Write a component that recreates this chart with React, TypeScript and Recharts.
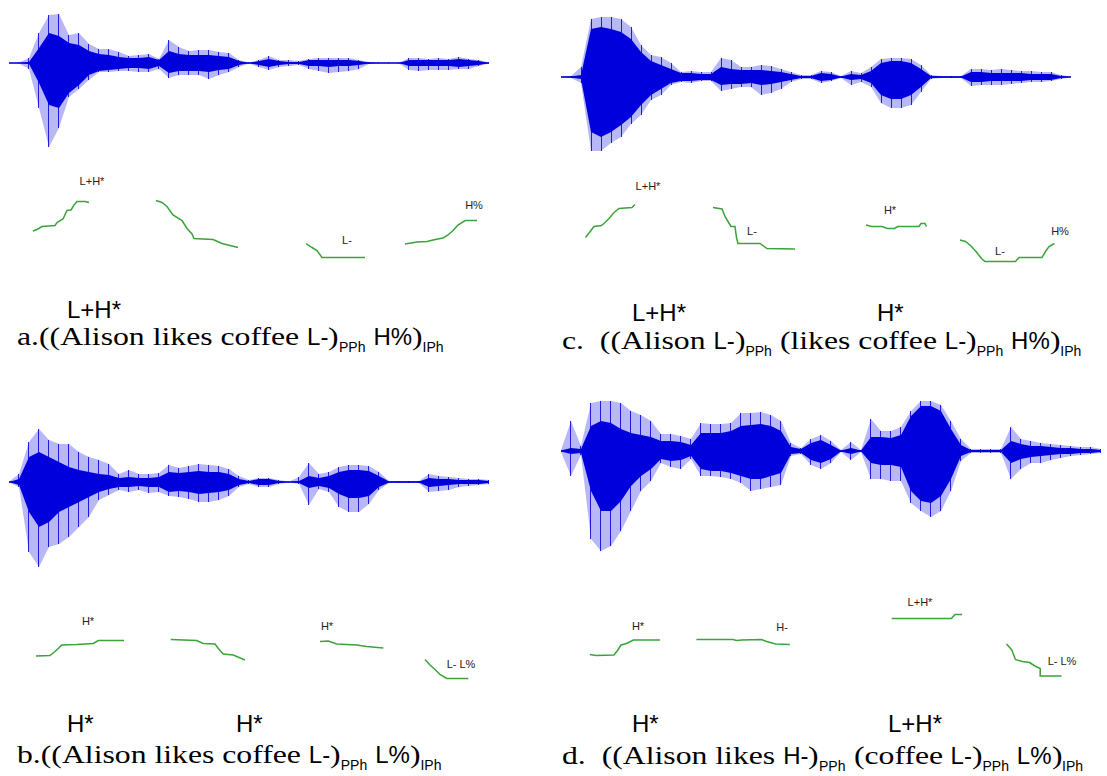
import React from "react";
import { ComposedChart, Area, Bar, XAxis, YAxis, ReferenceLine, LineChart, Line } from "recharts";

const BLUE = "#0000dd";
const GREEN = "#3aa33a";
const SERIF = "'Liberation Serif', 'Times New Roman', serif";
const SANS = "'Liberation Sans', Arial, sans-serif";
const STRETCH = 1.22; // the serif captions in the scan are set wide

// waveform envelopes, one sample every ~10px of the recording (amplitude above / below zero)
const waveAUp = [0.5, 0.5, 5, 30, 48, 49, 28, 30, 19, 14, 14, 11, 7, 8, 9, 4, 23, 16, 12, 13, 13, 11, 10, 3, 0.5, 3, 7, 3, 3, 2, 4, 5, 5, 5, 5, 3, 1, 0.5, 0.5, 0.5, 5, 5, 4, 5, 4, 6, 4, 3, 0.5];
const waveADown = [0.5, 0.5, 6, 45, 84, 65, 34, 26, 17, 9, 9, 8, 8, 9, 9, 6, 15, 12, 12, 12, 16, 12, 9, 4, 0.5, 4, 7, 4, 3, 2, 6, 8, 10, 9, 8, 6, 1, 0.5, 0.5, 0.5, 7, 8, 7, 7, 7, 6, 6, 3, 0.5];
const waveACoreUp = [0, 0, 1, 15, 30, 27, 20, 18, 12, 9, 8, 6, 5, 5, 6, 3, 12, 9, 8, 8, 8, 7, 6, 2, 0, 2, 4, 2, 1, 1, 3, 3, 3, 3, 3, 2, 0.5, 0, 0, 0, 3, 3, 3, 3, 3, 4, 3, 2, 0];
const waveACoreDown = [0, 0, 1, 20, 42, 45, 30, 22, 12, 8, 7, 6, 5, 5, 6, 3, 10, 8, 8, 8, 9, 7, 6, 2, 0, 2, 4, 2, 1, 1, 3, 3, 4, 3, 3, 2, 0.5, 0, 0, 0, 3, 3, 3, 3, 3, 4, 3, 2, 0];

const waveCUp = [0.5, 1, 10, 58, 60, 60, 58, 50, 32, 22, 20, 14, 5, 6, 5, 5, 19, 17, 10, 10, 12, 11, 8, 5, 2, 2, 6, 5, 1, 6, 4, 10, 18, 19, 19, 18, 12, 2, 1, 1, 1, 8, 8, 7, 8, 7, 6, 6, 5, 5, 2, 0.5];
const waveCDown = [0.5, 1, 6, 74, 74, 66, 60, 47, 38, 23, 18, 8, 5, 6, 4, 4, 14, 12, 10, 10, 18, 16, 12, 5, 2, 2, 6, 4, 1, 8, 5, 10, 26, 31, 31, 28, 15, 2, 1, 1, 1, 9, 8, 8, 8, 7, 6, 5, 5, 4, 2, 0.5];
const waveCCoreUp = [0, 0.5, 2, 48, 50, 48, 45, 38, 25, 16, 12, 8, 4, 4, 3, 3, 10, 8, 7, 7, 7, 6, 5, 3, 1, 1, 4, 3, 0.5, 3, 2, 6, 14, 16, 16, 14, 8, 1, 0.5, 0.5, 0.5, 5, 5, 4, 4, 4, 4, 3, 3, 3, 1, 0];
const waveCCoreDown = [0, 0.5, 2, 55, 60, 55, 48, 40, 28, 18, 12, 6, 4, 4, 3, 3, 8, 7, 7, 6, 8, 7, 5, 3, 1, 1, 4, 3, 0.5, 3, 2, 6, 18, 22, 22, 18, 10, 1, 0.5, 0.5, 0.5, 5, 5, 4, 4, 4, 4, 3, 3, 3, 1, 0];

const waveBUp = [0.5, 8, 40, 53, 42, 38, 38, 30, 25, 22, 18, 8, 12, 8, 8, 9, 17, 14, 16, 18, 17, 16, 13, 6, 2, 4, 4, 2, 0.5, 5, 19, 8, 10, 15, 17, 17, 16, 10, 1, 1, 1, 1, 8, 6, 5, 4, 3, 3, 2];
const waveBDown = [0.5, 5, 70, 85, 65, 62, 55, 45, 35, 18, 13, 8, 10, 8, 11, 10, 14, 15, 17, 20, 20, 18, 14, 5, 2, 5, 5, 2, 0.5, 2, 23, 7, 10, 25, 30, 30, 22, 8, 1, 1, 1, 1, 10, 9, 8, 5, 4, 3, 2];
const waveBCoreUp = [0, 3, 25, 30, 25, 20, 15, 12, 10, 8, 7, 4, 5, 4, 4, 5, 10, 9, 10, 11, 10, 10, 8, 3, 1, 3, 3, 1, 0, 1, 6, 4, 6, 10, 12, 12, 11, 6, 0.5, 0.5, 0.5, 0.5, 4, 3, 3, 2, 2, 2, 1];
const waveBCoreDown = [0, 3, 30, 45, 40, 30, 25, 20, 15, 10, 7, 5, 5, 4, 5, 5, 10, 9, 10, 12, 11, 10, 8, 3, 1, 3, 3, 1, 0, 1, 6, 4, 6, 12, 16, 16, 14, 5, 0.5, 0.5, 0.5, 0.5, 5, 4, 3, 2, 2, 2, 1];

const waveDUp = [1, 30, 5, 48, 50, 50, 48, 40, 36, 30, 17, 17, 15, 12, 28, 27, 27, 28, 38, 38, 39, 36, 30, 8, 3, 12, 16, 10, 1, 9, 1, 32, 20, 20, 24, 40, 50, 50, 46, 30, 12, 2, 2, 2, 2, 24, 12, 10, 8, 7, 6, 5, 4, 4, 2];
const waveDDown = [1, 25, 4, 88, 100, 95, 80, 60, 40, 30, 12, 16, 18, 8, 25, 25, 26, 28, 32, 40, 38, 36, 34, 5, 3, 14, 18, 12, 1, 9, 1, 28, 28, 30, 30, 52, 60, 66, 60, 40, 10, 2, 2, 2, 2, 28, 18, 12, 12, 9, 7, 5, 4, 3, 2];
const waveDCoreUp = [0.5, 3, 2, 25, 30, 28, 22, 18, 16, 14, 10, 10, 9, 6, 18, 18, 18, 20, 25, 26, 27, 25, 20, 4, 2, 8, 11, 6, 0.5, 3, 0.5, 14, 14, 13, 16, 35, 45, 45, 40, 22, 6, 1, 1, 1, 1, 10, 7, 5, 5, 4, 3, 3, 2, 2, 1];
const waveDCoreDown = [0.5, 3, 2, 40, 60, 60, 50, 35, 25, 18, 8, 10, 9, 5, 18, 20, 20, 22, 25, 28, 28, 25, 22, 3, 2, 9, 12, 8, 0.5, 3, 0.5, 12, 14, 14, 16, 40, 50, 52, 45, 28, 5, 1, 1, 1, 1, 12, 8, 6, 5, 4, 3, 3, 2, 2, 1];

// F0 tracks: [time, Hz], one array per voiced stretch
const pitchA1 = [[2.4, 218], [2.8, 221], [3.3, 227], [4.6, 229], [4.8, 235], [5.4, 242], [5.8, 259], [6.2, 260], [6.5, 270], [6.8, 277], [7.6, 277], [8.0, 275]];
const pitchA2 = [[14.7, 279], [15.3, 275], [15.8, 267], [16.4, 250], [17.3, 239], [17.8, 223], [18.3, 212], [18.5, 203], [20.4, 201], [21.3, 193], [22.1, 189], [22.9, 185]];
const pitchA3 = [[29.7, 193], [30.3, 185], [30.8, 179], [31.3, 165], [35.6, 165]];
const pitchA4 = [[39.6, 192], [40.8, 196], [41.8, 197], [42.4, 200], [43.4, 204], [43.9, 210], [44.4, 219], [44.9, 230], [45.6, 239], [46.8, 239]];

const pitchC1 = [[2.45, 205], [3.0, 219], [3.3, 227], [4.05, 229], [4.4, 235], [4.8, 243], [5.3, 255], [5.8, 263], [7.1, 265], [7.4, 271]];
const pitchC2 = [[15.2, 265], [16.1, 262], [16.4, 247], [16.7, 237], [17.0, 227], [17.4, 227], [17.55, 205], [17.7, 193], [19.9, 193], [20.6, 183], [23.4, 182]];
const pitchC3 = [[30.5, 230], [31.05, 227], [32.1, 227], [32.65, 223], [33.35, 223], [33.7, 227], [35.8, 227], [36.0, 233], [36.4, 233], [36.55, 227]];
const pitchC4 = [[39.9, 200], [40.45, 197], [41.0, 188], [41.5, 177], [42.05, 163], [42.4, 157], [45.45, 157], [45.8, 165], [48.1, 165], [48.45, 177], [48.8, 187], [49.35, 193]];

const pitchB1 = [[2.7, 228], [4.1, 229], [4.6, 237], [4.93, 243], [5.27, 250], [6.77, 251], [8.43, 253], [8.93, 259], [11.5, 259]];
const pitchB2 = [[16.17, 261], [18.77, 259], [19.43, 253], [20.6, 252], [20.93, 243], [21.43, 232], [22.43, 230], [23.6, 220]];
const pitchB3 = [[31.1, 257], [31.93, 258], [32.77, 252], [34.77, 250], [35.77, 247], [37.43, 244]];
const pitchB4 = [[41.6, 221], [42.1, 210], [42.6, 201], [43.1, 191], [43.77, 183], [45.93, 183]];

const pitchD1 = [[2.88, 191], [3.52, 189], [5.3, 190], [5.65, 199], [6.0, 210], [6.54, 213], [7.25, 220], [9.91, 220]];
const pitchD2 = [[13.54, 221], [17.2, 221], [17.55, 219], [18.08, 220], [20.04, 221], [20.57, 217], [21.46, 212], [22.88, 211]];
const pitchD3 = [[33.07, 263], [39.04, 263], [39.4, 271], [40.11, 271]];
const pitchD4 = [[44.55, 212], [45.08, 200], [45.44, 181], [46.15, 177], [46.86, 175], [47.39, 168], [47.92, 163], [47.92, 148], [50.05, 148]];

const noMargin = { top: 0, right: 0, bottom: 0, left: 0 };

function Waveform({ up, down, coreUp, coreDown, left, top, width, height, min, max }: any) {
  const rows = up.map((u: number, i: number) => ({
    t: i,
    peak: [-down[i], u],
    core: [-coreDown[i], coreUp[i]],
  }));
  return (
    <div style={{ position: "absolute", left, top }}>
      <ComposedChart width={width} height={height} data={rows} margin={noMargin}>
        <XAxis dataKey="t" type="number" domain={[0, up.length - 1]} hide />
        <YAxis type="number" domain={[min, max]} hide allowDataOverflow />
        <Area dataKey="peak" type="linear" fill={BLUE} fillOpacity={0.28} stroke="none" isAnimationActive={false} />
        <Area dataKey="core" type="linear" fill={BLUE} fillOpacity={1} stroke="none" isAnimationActive={false} />
        <Bar dataKey="peak" barSize={1} fill={BLUE} fillOpacity={0.85} isAnimationActive={false} />
        <ReferenceLine y={0} stroke={BLUE} strokeWidth={1.5} />
      </ComposedChart>
    </div>
  );
}

function PitchTrack({ segments, left, top, width, span }: any) {
  return (
    <div style={{ position: "absolute", left, top }}>
      <LineChart width={width} height={100} margin={noMargin}>
        <XAxis dataKey="t" type="number" domain={[0, span]} hide />
        <YAxis type="number" domain={[100, 300]} hide />
        {segments.map((seg: number[][], k: number) => (
          <Line
            key={k}
            data={seg.map(([t, hz]) => ({ t, hz }))}
            dataKey="hz"
            type="linear"
            stroke={GREEN}
            strokeWidth={1.5}
            dot={false}
            isAnimationActive={false}
          />
        ))}
      </LineChart>
    </div>
  );
}

function Tag({ x, y, children }: any) {
  return (
    <div
      style={{
        position: "absolute",
        left: x,
        top: y,
        transform: "translate(-50%, -50%)",
        fontFamily: SANS,
        fontSize: 11,
        lineHeight: "11px",
        color: "#222",
        whiteSpace: "pre",
      }}
    >
      {children}
    </div>
  );
}

function Accent({ x, baseline, children }: any) {
  return (
    <div style={{ position: "absolute", left: x, top: baseline - 20, fontFamily: SANS, fontSize: 24, lineHeight: "24px", color: "#000" }}>
      {children}
    </div>
  );
}

const ctx = typeof document !== "undefined" ? document.createElement("canvas").getContext("2d") : null;

// serif run, widened like the scan
const T = ({ children }: any) => {
  const text = String(children);
  let w = text.length * 12;
  if (ctx) {
    ctx.font = "26px 'Liberation Serif'";
    w = ctx.measureText(text).width;
  }
  return (
    <span style={{ display: "inline-block", width: w * STRETCH, whiteSpace: "pre" }}>
      <span style={{ display: "inline-block", transform: `scaleX(${STRETCH})`, transformOrigin: "0 0", whiteSpace: "pre" }}>{text}</span>
    </span>
  );
};
const A = ({ children }: any) => <span style={{ fontFamily: SANS, fontSize: 24 }}>{children}</span>;
const Sub = ({ children }: any) => (
  <span style={{ fontFamily: SANS, fontSize: 14, position: "relative", top: 7 }}>{children}</span>
);

function Caption({ x, baseline, children }: any) {
  return (
    <div
      style={{
        position: "absolute",
        left: x,
        top: baseline - 24,
        fontFamily: SERIF,
        fontSize: 26,
        lineHeight: "30px",
        color: "#000",
        whiteSpace: "pre",
      }}
    >
      {children}
    </div>
  );
}

export default function App() {
  return (
    <div style={{ position: "absolute", left: 0, top: 0, width: 1107, height: 776, background: "#fff", overflow: "hidden" }}>
      {/* a */}
      <Waveform up={waveAUp} down={waveADown} coreUp={waveACoreUp} coreDown={waveACoreDown} left={9} top={8} width={480} height={145} min={-90} max={55} />
      <PitchTrack segments={[pitchA1, pitchA2, pitchA3, pitchA4]} left={9} top={190} width={480} span={48} />
      <Tag x={92} y={181}>L+H*</Tag>
      <Tag x={347} y={240}>L-</Tag>
      <Tag x={474} y={205}>H%</Tag>
      <Accent x={67} baseline={318}>L+H*</Accent>
      <Caption x={17} baseline={346}>
        <T>a.((Alison likes coffee </T><A>L-</A><T>)</T><Sub>PPh</Sub><T> </T><A>H%</A><T>)</T><Sub>IPh</Sub>
      </Caption>

      {/* c */}
      <Waveform up={waveCUp} down={waveCDown} coreUp={waveCCoreUp} coreDown={waveCCoreDown} left={561} top={12} width={510} height={145} min={-80} max={65} />
      <PitchTrack segments={[pitchC1, pitchC2, pitchC3, pitchC4]} left={561} top={190} width={510} span={51} />
      <Tag x={648} y={186}>L+H*</Tag>
      <Tag x={752} y={231}>L-</Tag>
      <Tag x={890} y={210}>H*</Tag>
      <Tag x={1060} y={231}>H%</Tag>
      <Tag x={1000} y={251}>L-</Tag>
      <Accent x={632} baseline={321}>L+H*</Accent>
      <Accent x={877} baseline={321}>H*</Accent>
      <Caption x={562} baseline={350}>
        <T>c.  ((Alison </T><A>L-</A><T>)</T><Sub>PPh</Sub><T> (likes coffee </T><A>L-</A><T>)</T><Sub>PPh</Sub><T> </T><A>H%</A><T>)</T><Sub>IPh</Sub>
      </Caption>

      {/* b */}
      <Waveform up={waveBUp} down={waveBDown} coreUp={waveBCoreUp} coreDown={waveBCoreDown} left={9} top={427} width={480} height={145} min={-90} max={55} />
      <PitchTrack segments={[pitchB1, pitchB2, pitchB3, pitchB4]} left={9} top={620} width={480} span={48} />
      <Tag x={88} y={621}>H*</Tag>
      <Tag x={327} y={626}>H*</Tag>
      <Tag x={461} y={664}>L- L%</Tag>
      <Accent x={67} baseline={732}>H*</Accent>
      <Accent x={236} baseline={732}>H*</Accent>
      <Caption x={17} baseline={764}>
        <T>b.((Alison likes coffee </T><A>L-</A><T>)</T><Sub>PPh</Sub><T> </T><A>L%</A><T>)</T><Sub>IPh</Sub>
      </Caption>

      {/* d */}
      <Waveform up={waveDUp} down={waveDDown} coreUp={waveDCoreUp} coreDown={waveDCoreDown} left={561} top={396} width={540} height={160} min={-105} max={55} />
      <PitchTrack segments={[pitchD1, pitchD2, pitchD3, pitchD4]} left={561} top={600} width={540} span={54} />
      <Tag x={638} y={626}>H*</Tag>
      <Tag x={782} y={627}>H-</Tag>
      <Tag x={920} y={602}>L+H*</Tag>
      <Tag x={1062} y={661}>L- L%</Tag>
      <Accent x={632} baseline={732}>H*</Accent>
      <Accent x={888} baseline={732}>L+H*</Accent>
      <Caption x={562} baseline={765}>
        <T>d.  ((Alison likes </T><A>H-</A><T>)</T><Sub>PPh</Sub><T> (coffee </T><A>L-</A><T>)</T><Sub>PPh</Sub><T> </T><A>L%</A><T>)</T><Sub>IPh</Sub>
      </Caption>
    </div>
  );
}
